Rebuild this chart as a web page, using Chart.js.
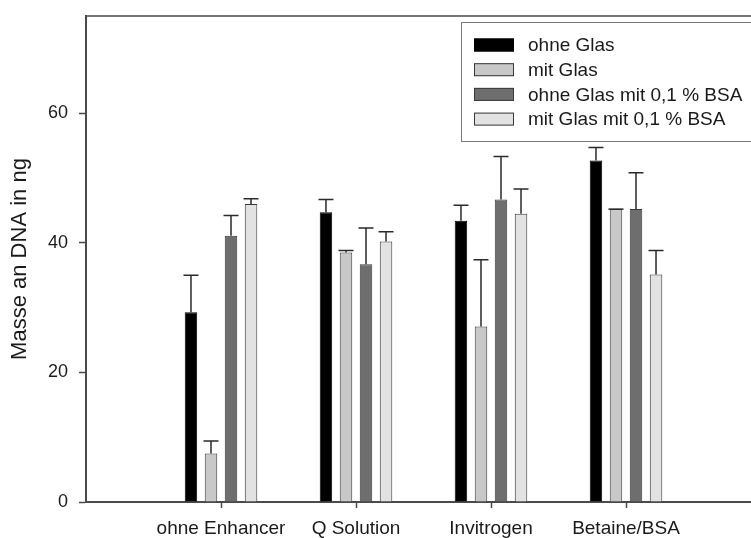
<!DOCTYPE html>
<html lang="de">
<head>
    <meta charset="UTF-8">
    <title>Masse an DNA</title>
    <script src="https://cdn.jsdelivr.net/npm/chart.js"></script>
    <style>
    body {
        margin: 0;
        padding: 0;
        background: #fff;
        overflow: hidden;
    }
    .wrap {
        position: absolute;
        top: 0;
        left: 0;
        width: 780px;
        height: 538px;
    }
    </style>
</head>
<body>
    <div class="wrap">
        <canvas id="dna-chart"></canvas>
    </div>

    <script>
        // empty slots at both ends keep the axis running past the groups
        const categories = ['', 'ohne Enhancer', 'Q Solution', 'Invitrogen', 'Betaine/BSA', ''];
        const seriesNames = ['ohne Glas', 'mit Glas', 'ohne Glas mit 0,1 % BSA', 'mit Glas mit 0,1 % BSA'];

        const ohneGlas = [null, 29.3, 44.7, 43.4, 52.7, null];
        const mitGlas = [null, 7.5, 38.5, 27.1, 45.2, null];
        const ohneGlasBSA = [null, 41.1, 36.7, 46.7, 45.2, null];
        const mitGlasBSA = [null, 46.0, 40.2, 44.5, 35.1, null];

        const errOhneGlas = [null, 5.7, 2.0, 2.4, 2.0, null];
        const errMitGlas = [null, 1.9, 0.3, 10.3, 0, null];
        const errOhneGlasBSA = [null, 3.1, 5.6, 6.6, 5.6, null];
        const errMitGlasBSA = [null, 0.8, 1.5, 3.8, 3.7, null];

        const yTicks = [0, 20, 40, 60];

        const fills = ['#000000', '#c8c8c8', '#6e6e6e', '#e2e2e2'];
        const values = [ohneGlas, mitGlas, ohneGlasBSA, mitGlasBSA];
        const errors = [errOhneGlas, errMitGlas, errOhneGlasBSA, errMitGlasBSA];

        const FONT = "'Liberation Sans', Arial, sans-serif";
        const INK = '#1a1a1a';
        const AXIS = '#4a4a4a';

        // upper error bars
        const errorBars = {
            id: 'errorBars',
            afterDatasetsDraw(chart) {
                const c = chart.ctx;
                const y = chart.scales.y;
                c.save();
                c.strokeStyle = '#2a2a2a';
                c.lineWidth = 1.5;
                chart.data.datasets.forEach((ds, i) => {
                    chart.getDatasetMeta(i).data.forEach((bar, j) => {
                        const v = ds.data[j], e = ds.errors[j];
                        if (v == null || e == null) return;
                        const yTop = y.getPixelForValue(v + e);
                        c.beginPath();
                        c.moveTo(bar.x, bar.y);
                        c.lineTo(bar.x, yTop);
                        c.moveTo(bar.x - 7.5, yTop);
                        c.lineTo(bar.x + 7.5, yTop);
                        c.stroke();
                    });
                });
                c.restore();
            }
        };

        // frame top line + boxed legend in the upper right corner
        const frameAndLegend = {
            id: 'frameAndLegend',
            afterDraw(chart) {
                const c = chart.ctx;
                const a = chart.chartArea;
                c.save();
                c.strokeStyle = AXIS;
                c.lineWidth = 1.5;
                c.beginPath();
                c.moveTo(a.left, a.top);
                c.lineTo(a.right, a.top);
                c.stroke();

                const bx = a.right - 300, by = a.top + 6;
                c.fillStyle = '#fff';
                c.fillRect(bx, by, 320, 119);
                c.strokeStyle = '#7a7a7a';
                c.lineWidth = 1;
                c.strokeRect(bx + 0.5, by + 0.5, 320, 119);

                c.font = '19px ' + FONT;
                c.textBaseline = 'middle';
                chart.data.datasets.forEach((ds, i) => {
                    const cy = by + 23 + i * 24.7;
                    c.fillStyle = ds.backgroundColor;
                    c.fillRect(bx + 13, cy - 6.5, 40, 13);
                    c.strokeStyle = i === 0 ? '#000' : '#3a3a3a';
                    c.strokeRect(bx + 13.5, cy - 6, 39, 12);
                    c.fillStyle = INK;
                    c.fillText(ds.label, bx + 67, cy + 1);
                });
                c.restore();
            }
        };

        const ctx = document.getElementById('dna-chart').getContext('2d');
        new Chart(ctx, {
            type: 'bar',
            data: {
                labels: categories,
                datasets: seriesNames.map((name, i) => ({
                    label: name,
                    data: values[i],
                    errors: errors[i],
                    backgroundColor: fills[i],
                    borderColor: i === 0 ? '#000' : '#3a3a3a',
                    borderWidth: 1,
                    categoryPercentage: 0.593,
                    barPercentage: 0.625
                }))
            },
            options: {
                responsive: true,
                maintainAspectRatio: false,
                animation: false,
                layout: { padding: { left: 0, top: 16, right: 19, bottom: 0 } },
                plugins: {
                    legend: { display: false },
                    tooltip: { enabled: false }
                },
                scales: {
                    x: {
                        type: 'category',
                        offset: false,
                        afterFit: s => { s.height = 36; },
                        border: { display: true, color: AXIS, width: 2 },
                        grid: {
                            offset: false,
                            drawOnChartArea: false,
                            tickLength: 6,
                            tickColor: c => (c.tick && c.tick.label === '') ? 'rgba(0,0,0,0)' : AXIS,
                            tickWidth: 1.5
                        },
                        ticks: {
                            color: INK,
                            font: { family: FONT, size: 19 },
                            padding: 9,
                            maxRotation: 0,
                            autoSkip: false
                        }
                    },
                    y: {
                        min: 0,
                        max: 75,
                        afterFit: s => {
                            s.width = 86;
                            s.paddingTop = 0;
                            s.paddingBottom = 0;
                        },
                        afterBuildTicks: s => { s.ticks = yTicks.map(v => ({ value: v })); },
                        border: { display: true, color: AXIS, width: 2 },
                        grid: {
                            drawOnChartArea: false,
                            tickLength: 7,
                            tickColor: AXIS,
                            tickWidth: 1.5
                        },
                        ticks: {
                            color: INK,
                            font: { family: FONT, size: 18 },
                            padding: 11
                        },
                        title: {
                            display: true,
                            text: 'Masse an DNA in ng',
                            color: INK,
                            font: { family: FONT, size: 22 },
                            padding: { top: 7, bottom: 0 }
                        }
                    }
                }
            },
            plugins: [errorBars, frameAndLegend]
        });
    </script>
</body>
</html>
